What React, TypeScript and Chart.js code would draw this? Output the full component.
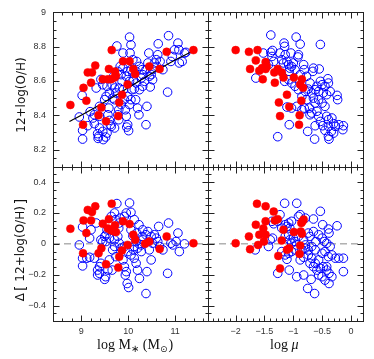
import React, { useEffect, useRef } from "react";
import { Chart, registerables } from "chart.js";

Chart.register(...registerables);

// axis ranges
const massRange = [8.4, 11.7];
const muRange = [-2.48, 0.21];
const ohRange = [8.1, 9.0];
const dohRange = [-0.5, 0.5];

// labelled ticks
const massTicks = [9, 10, 11];
const massTickLabels = ["9", "10", "11"];
const muTicks = [-2, -1.5, -1, -0.5, 0];
const muTickLabels = ["\u22122", "\u22121.5", "\u22121", "\u22120.5", "0"];
const ohTicks = [8.2, 8.4, 8.6, 8.8, 9];
const ohTickLabels = ["8.2", "8.4", "8.6", "8.8", "9"];
const dohTicks = [-0.4, -0.2, 0, 0.2, 0.4];
const dohTickLabels = ["\u22120.4", "\u22120.2", "0", "0.2", "0.4"];

// top-left: log M*, 12+log(O/H)
const redMassOH = [
  [8.77, 8.46], [9.05, 8.56], [9.11, 8.485], [9.14, 8.65], [9.23, 8.65], [9.3, 8.69], [9.21, 8.59],
  [9.04, 8.345], [9.37, 8.4], [9.43, 8.445], [9.46, 8.61], [9.53, 8.365], [9.57, 8.61], [9.59, 8.67],
  [9.65, 8.78], [9.64, 8.61], [9.71, 8.62], [9.74, 8.63], [9.72, 8.655], [9.79, 8.395], [9.81, 8.475],
  [9.87, 8.52], [9.89, 8.715], [9.99, 8.58], [10.03, 8.715], [10.11, 8.67], [10.15, 8.64], [10.45, 8.685],
  [10.67, 8.67], [10.82, 8.77], [11.39, 8.78],
];
const blueMassOH = [
  [8.96, 8.39], [9.03, 8.312], [9.03, 8.261], [9.02, 8.516], [9.14, 8.339], [9.19, 8.421], [9.25, 8.384],
  [9.28, 8.351], [9.32, 8.559], [9.35, 8.293], [9.37, 8.277], [9.36, 8.265], [9.39, 8.326], [9.42, 8.609],
  [9.46, 8.578], [9.47, 8.258], [9.52, 8.273], [9.5, 8.491], [9.53, 8.51], [9.55, 8.569], [9.57, 8.403],
  [9.59, 8.442], [9.62, 8.345], [9.64, 8.335], [9.67, 8.5], [9.66, 8.578], [9.69, 8.627], [9.71, 8.559],
  [9.74, 8.53], [9.76, 8.804], [9.78, 8.403], [9.8, 8.432], [9.83, 8.685], [9.85, 8.637], [9.87, 8.598],
  [9.89, 8.763], [9.9, 8.549], [9.92, 8.491], [9.94, 8.432], [9.96, 8.394], [9.97, 8.331], [9.99, 8.345],
  [10.01, 8.31], [10.03, 8.856], [10.06, 8.811], [10.04, 8.763], [10.06, 8.666], [10.1, 8.724], [10.11, 8.607],
  [10.13, 8.553], [10.16, 8.491], [10.17, 8.588], [10.18, 8.714], [10.2, 8.442], [10.23, 8.403], [10.24, 8.685],
  [10.28, 8.617], [10.3, 8.666], [10.31, 8.637], [10.35, 8.598], [10.38, 8.345], [10.4, 8.452], [10.42, 8.705],
  [10.44, 8.763], [10.47, 8.565], [10.49, 8.637], [10.52, 8.666], [10.56, 8.705], [10.6, 8.724], [10.61, 8.685],
  [10.63, 8.753], [10.64, 8.817], [10.68, 8.714], [10.74, 8.666], [10.84, 8.535], [10.86, 8.864], [10.91, 8.714],
  [10.94, 8.743], [10.99, 8.782], [11.06, 8.821], [11.08, 8.782], [11.09, 8.705], [11.2, 8.763], [11.23, 8.767],
  [11.15, 8.714], [9.6, 8.53], [9.71, 8.491], [9.81, 8.559], [9.99, 8.51], [10.06, 8.491], [10.08, 8.549],
  [10.24, 8.549], [10.31, 8.569], [9.96, 8.627], [10.03, 8.598], [9.78, 8.656], [9.89, 8.675], [10.17, 8.656],
  [10.38, 8.666], [10.45, 8.627], [10.52, 8.607], [9.99, 8.656], [10.1, 8.646], [9.39, 8.394], [9.46, 8.306],
  [9.55, 8.296], [9.6, 8.37], [9.71, 8.326], [9.8, 8.374], [9.85, 8.462], [10.03, 8.462], [9.39, 8.452],
  [9.28, 8.403],
];
// fit line through the top-left panel
const fitMass = [8.75, 9.0, 9.5, 10.0, 10.5, 11.0, 11.37];
const fitOH = [8.364, 8.4, 8.478, 8.56, 8.643, 8.722, 8.773];

// bottom-left: log M*, delta
const redMassDelta = [
  [8.77, 0.098], [9.05, 0.152], [9.11, 0.07], [9.14, 0.22], [9.23, 0.207], [9.3, 0.243], [9.21, 0.152],
  [9.04, -0.061], [9.37, -0.061], [9.43, -0.028], [9.46, 0.13], [9.53, -0.133], [9.57, 0.1], [9.59, 0.16],
  [9.65, 0.26], [9.64, 0.087], [9.71, 0.08], [9.74, 0.076], [9.72, 0.12], [9.79, -0.154], [9.81, -0.083],
  [9.87, -0.043], [9.89, 0.146], [9.99, -0.007], [10.03, 0.128], [10.11, 0.059], [10.15, 0.026], [10.45, 0.015],
  [10.36, 0.0], [10.67, -0.033], [10.82, 0.048], [11.39, 0.004],
];
const blueMassDelta = [
  [8.96, -0.007], [9.03, -0.093], [9.03, -0.143], [9.03, 0.109], [9.12, -0.093], [9.18, -0.087], [9.28, -0.093],
  [9.21, 0.091], [9.18, 0.037], [9.32, 0.135], [9.35, -0.17], [9.35, -0.202], [9.39, -0.191], [9.39, -0.148],
  [9.42, -0.126], [9.42, 0.026], [9.46, 0.015], [9.5, 0.048], [9.53, 0.059], [9.55, 0.091], [9.52, -0.213],
  [9.5, -0.23], [9.57, -0.17], [9.6, -0.104], [9.66, -0.17], [9.67, -0.039], [9.71, -0.017], [9.74, -0.083],
  [9.73, 0.157], [9.76, 0.261], [9.78, 0.048], [9.8, 0.102], [9.83, 0.167], [9.85, -0.028], [9.89, -0.104],
  [9.92, -0.148], [9.94, -0.202], [9.96, -0.18], [9.98, -0.257], [10.01, -0.283], [10.03, 0.265], [10.06, 0.204],
  [10.06, 0.091], [10.1, 0.052], [10.11, -0.039], [10.13, -0.093], [10.17, -0.126], [10.17, 0.015], [10.18, 0.07],
  [10.2, -0.17], [10.24, -0.224], [10.28, -0.05], [10.3, 0.048], [10.31, 0.026], [10.38, -0.322], [10.4, -0.18],
  [10.42, 0.08], [10.45, -0.039], [10.49, -0.104], [10.52, 0.004], [10.56, 0.059], [10.6, 0.037], [10.63, 0.015],
  [10.65, 0.113], [10.67, -0.017], [10.74, -0.039], [10.84, -0.191], [10.86, 0.135], [10.91, 0.004], [10.95, -0.007],
  [11.02, 0.015], [11.06, 0.07], [11.09, -0.05], [11.2, 0.0], [9.64, 0.178], [9.71, 0.2], [9.81, 0.135],
  [9.92, 0.178], [9.96, 0.2], [10.13, 0.157], [10.23, 0.124], [10.31, 0.091], [9.53, 0.015], [9.6, 0.037],
  [9.71, 0.026], [9.81, 0.004], [9.92, -0.017], [9.99, -0.05], [10.06, -0.072], [10.13, -0.017], [10.2, -0.028],
  [10.28, -0.007], [10.38, 0.059], [10.49, 0.048],
];

// top-right: log mu, 12+log(O/H)
const redMuOH = [
  [-2.0, 8.78], [-1.77, 8.77], [-1.62, 8.78], [-1.65, 8.72], [-1.48, 8.71], [-1.46, 8.685], [-1.75, 8.67],
  [-1.59, 8.66], [-1.54, 8.675], [-1.48, 8.67], [-1.53, 8.61], [-1.33, 8.65], [-1.27, 8.67], [-1.32, 8.59],
  [-1.2, 8.65], [-1.17, 8.62], [-0.99, 8.62], [-0.85, 8.61], [-0.88, 8.58], [-0.83, 8.56], [-1.11, 8.52],
  [-1.25, 8.475], [-1.07, 8.45], [-0.86, 8.485], [-1.23, 8.395], [-0.89, 8.4], [-0.9, 8.345],
];
const blueMuOH = [
  [-1.39, 8.868], [-0.95, 8.856], [-0.88, 8.815], [-0.53, 8.813], [-1.16, 8.821], [-1.15, 8.802], [-1.36, 8.778],
  [-1.39, 8.767], [-1.52, 8.763], [-1.23, 8.763], [-1.14, 8.753], [-1.04, 8.763], [-0.91, 8.753], [-0.92, 8.74],
  [-1.2, 8.724], [-1.17, 8.705], [-1.11, 8.714], [-1.08, 8.695], [-1.03, 8.685], [-1.06, 8.675], [-1.0, 8.705],
  [-0.97, 8.666], [-1.07, 8.656], [-1.37, 8.743], [-1.34, 8.714], [-1.43, 8.695], [-0.82, 8.695], [-0.81, 8.666],
  [-0.65, 8.675], [-0.55, 8.67], [-0.66, 8.656], [-1.65, 8.617], [-1.15, 8.598], [-1.08, 8.607], [-1.03, 8.588],
  [-0.97, 8.569], [-0.91, 8.549], [-0.79, 8.539], [-0.74, 8.553], [-0.68, 8.53], [-0.62, 8.549], [-0.53, 8.598],
  [-0.5, 8.578], [-0.45, 8.569], [-0.4, 8.613], [-0.39, 8.588], [-0.59, 8.569], [-0.56, 8.539], [-0.48, 8.53],
  [-0.42, 8.52], [-0.36, 8.539], [-0.24, 8.516], [-0.23, 8.491], [-0.65, 8.5], [-0.62, 8.471], [-0.56, 8.491],
  [-0.5, 8.471], [-0.45, 8.452], [-0.72, 8.442], [-0.68, 8.413], [-0.59, 8.423], [-0.56, 8.394], [-0.53, 8.364],
  [-0.62, 8.339], [-0.71, 8.403], [-1.11, 8.448], [-1.03, 8.442], [-0.94, 8.452], [-0.85, 8.432], [-0.81, 8.442],
  [-1.07, 8.345], [-0.75, 8.306], [-0.63, 8.261], [-1.27, 8.275], [-0.42, 8.394], [-0.39, 8.374], [-0.33, 8.384],
  [-0.3, 8.351], [-0.39, 8.335], [-0.27, 8.335], [-0.21, 8.345], [-0.13, 8.339], [-0.14, 8.316], [-0.3, 8.296],
  [-0.39, 8.277], [-0.38, 8.261], [-0.49, 8.339], [-0.45, 8.312], [-0.34, 8.306], [-0.88, 8.637], [-0.77, 8.627],
  [-0.71, 8.588], [-0.85, 8.51], [-0.77, 8.491],
];

// bottom-right: log mu, delta
const redMuDelta = [
  [-2.0, 0.004], [-1.77, 0.048], [-1.75, -0.035], [-1.65, 0.124], [-1.63, 0.26], [-1.48, 0.243], [-1.59, 0.059],
  [-1.61, -0.007], [-1.52, 0.1], [-1.48, 0.146], [-1.48, 0.059], [-1.51, 0.015], [-1.34, 0.209], [-1.32, 0.152],
  [-1.27, 0.16], [-1.2, 0.022], [-1.17, 0.091], [-1.26, -0.078], [-1.23, -0.159], [-1.11, -0.039], [-1.07, -0.028],
  [-0.99, 0.076], [-0.88, -0.011], [-0.89, -0.065], [-0.87, 0.08], [-0.86, 0.135], [-0.84, 0.146], [-0.82, 0.157],
  [-0.85, 0.065],
];
const blueMuDelta = [
  [-1.15, 0.263], [-0.94, 0.263], [-1.23, 0.189], [-1.37, 0.146], [-1.34, 0.13], [-1.27, 0.146], [-1.66, -0.039],
  [-1.43, -0.017], [-1.4, 0.026], [-1.36, 0.037], [-1.2, 0.102], [-1.14, 0.124], [-1.11, 0.113], [-1.08, 0.135],
  [-1.06, 0.102], [-1.03, 0.146], [-0.91, 0.178], [-0.88, 0.189], [-0.79, 0.167], [-0.65, 0.161], [-0.53, 0.211],
  [-0.49, 0.124], [-0.39, 0.096], [-0.24, 0.117], [-0.38, 0.07], [-1.14, 0.048], [-1.08, 0.059], [-1.06, 0.026],
  [-1.03, 0.004], [-1.0, 0.037], [-0.97, 0.015], [-0.94, -0.007], [-0.91, 0.048], [-0.82, 0.026], [-0.79, -0.007],
  [-0.74, 0.07], [-0.71, 0.048], [-0.65, 0.08], [-0.61, 0.015], [-0.56, 0.059], [-0.5, 0.037], [-0.46, 0.015],
  [-0.42, 0.004], [-0.36, -0.017], [-1.2, -0.05], [-1.14, -0.072], [-1.11, -0.1], [-1.08, -0.061], [-1.03, -0.05],
  [-0.97, -0.039], [-0.88, -0.104], [-0.82, -0.087], [-0.74, -0.072], [-0.68, -0.093], [-0.62, -0.126], [-0.56, -0.104],
  [-0.5, -0.061], [-0.45, -0.05], [-0.39, -0.083], [-0.33, -0.072], [-0.27, -0.093], [-0.21, -0.093], [-0.13, -0.093],
  [-0.71, -0.126], [-0.65, -0.148], [-0.59, -0.17], [-0.53, -0.159], [-0.48, -0.148], [-0.42, -0.17], [-0.38, -0.191],
  [-0.33, -0.213], [-0.38, -0.257], [-0.45, -0.235], [-0.5, -0.213], [-0.56, -0.202], [-1.27, -0.191], [-1.07, -0.17],
  [-0.94, -0.213], [-0.82, -0.202], [-0.69, -0.23], [-0.75, -0.289], [-0.63, -0.322], [-0.42, -0.148], [-0.13, -0.18],
  [-0.79, -0.028], [-0.74, -0.039], [-0.68, -0.017], [-0.62, -0.039], [-0.85, -0.039],
];

// zero reference lines in the lower panels
const zeroDelta = [0, 0];

const RED = "#ff0000";
const BLUE = "#0000ff";

const axisDefs: any = {
  x1: { min: massRange[0], max: massRange[1], minor: 0.2, major: 1 },
  x2: { min: muRange[0], max: muRange[1], minor: 0.1, major: 0.5 },
  y1: { min: ohRange[0], max: ohRange[1], minor: 0.05, major: 0.2 },
  y2: { min: dohRange[0], max: dohRange[1], minor: 0.05, major: 0.2 },
};

function tickSet(def: any) {
  const out: { v: number; major: boolean }[] = [];
  const i0 = Math.ceil(def.min / def.minor - 1e-6);
  const i1 = Math.floor(def.max / def.minor + 1e-6);
  for (let i = i0; i <= i1; i++) {
    const v = i * def.minor;
    const r = v / def.major;
    out.push({ v, major: Math.abs(r - Math.round(r)) < 1e-6 });
  }
  return out;
}

const framePlugin = {
  id: "panelFrames",
  afterDatasetsDraw(chart: any) {
    const ctx = chart.ctx;
    const panels = [["x1", "y1"], ["x2", "y1"], ["x1", "y2"], ["x2", "y2"]];
    ctx.save();
    ctx.strokeStyle = "#222";
    ctx.lineWidth = 1;
    for (const [xk, yk] of panels) {
      const xs = chart.scales[xk];
      const ys = chart.scales[yk];
      const L = Math.round(xs.left) + 0.5;
      const R = Math.round(xs.right) + 0.5;
      const T = Math.round(ys.top) + 0.5;
      const B = Math.round(ys.bottom) + 0.5;
      ctx.strokeRect(L, T, R - L, B - T);
      ctx.beginPath();
      for (const t of tickSet(axisDefs[xk])) {
        const px = Math.round(xs.getPixelForValue(t.v)) + 0.5;
        if (px <= L + 1 || px >= R - 1) continue;
        const len = t.major ? 6 : 3;
        ctx.moveTo(px, B);
        ctx.lineTo(px, B - len);
        ctx.moveTo(px, T);
        ctx.lineTo(px, T + len);
      }
      for (const t of tickSet(axisDefs[yk])) {
        const py = Math.round(ys.getPixelForValue(t.v)) + 0.5;
        if (py <= T + 1 || py >= B - 1) continue;
        const len = t.major ? 6 : 3;
        ctx.moveTo(L, py);
        ctx.lineTo(L + len, py);
        ctx.moveTo(R, py);
        ctx.lineTo(R - len, py);
      }
      ctx.stroke();
    }
    ctx.restore();
  },
  afterDraw(chart: any) {
    const ctx = chart.ctx;
    ctx.save();
    ctx.fillStyle = "#111";
    // y titles
    ctx.textAlign = "center";
    ctx.textBaseline = "middle";
    ctx.save();
    ctx.translate(22, 95);
    ctx.rotate(-Math.PI / 2);
    ctx.font = '12px "DejaVu Sans"';
    ctx.fillText("12+log(O/H)", 0, 0);
    ctx.restore();

    ctx.save();
    ctx.translate(21, 250);
    ctx.rotate(-Math.PI / 2);
    ctx.font = '12px "DejaVu Sans"';
    const parts = ["\u0394", "[", "12+log(O/H)", "]"];
    const fonts = ['12px "DejaVu Sans"', '14px "DejaVu Sans"', '12px "DejaVu Sans"', '14px "DejaVu Sans"'];
    const gaps = [2, 4, 2];
    const widths = parts.map((p, i) => {
      ctx.font = fonts[i];
      return ctx.measureText(p).width;
    });
    const total = widths.reduce((a, b) => a + b, 0) + gaps.reduce((a, b) => a + b, 0);
    let x = -total / 2;
    ctx.textAlign = "left";
    parts.forEach((p, i) => {
      ctx.font = fonts[i];
      ctx.fillText(p, x, 0);
      x += widths[i] + (gaps[i] || 0);
    });
    ctx.restore();

    // x titles
    ctx.textAlign = "left";
    ctx.textBaseline = "alphabetic";
    const base = 348.5;
    const serif = '14px "Liberation Serif"';
    const small = '10px "Liberation Serif"';
    let cx = 97;
    const put = (txt: string, font: string, dy: number) => {
      ctx.font = font;
      ctx.fillText(txt, cx, base + dy);
      cx += ctx.measureText(txt).width;
    };
    put("log M", serif, 0);
    put("\u2217", small, 3);
    cx += 4;
    put("(M", serif, 0);
    ctx.font = '9px "DejaVu Sans"';
    ctx.fillText("\u2299", cx, base + 3);
    cx += ctx.measureText("\u2299").width + 1;
    put(")", serif, 0);

    cx = 270;
    put("log ", serif, 0);
    put("\u03bc", 'italic 14px "Liberation Serif"', 0);
    ctx.restore();
  },
};

const pts = (arr: number[][]) => arr.map(([x, y]) => ({ x, y }));

export default function App() {
  const ref = useRef<HTMLCanvasElement | null>(null);
  useEffect(() => {
    if (!ref.current) return;
    const tickFont = { family: '"Liberation Sans", Arial, sans-serif', size: 9 };
    const redSet = (data: number[][], xa: string, ya: string) => ({
      type: "scatter",
      data: pts(data),
      xAxisID: xa,
      yAxisID: ya,
      pointRadius: 4,
      pointBackgroundColor: RED,
      pointBorderColor: RED,
      pointBorderWidth: 0.5,
      showLine: false,
    });
    const blueSet = (data: number[][], xa: string, ya: string) => ({
      type: "scatter",
      data: pts(data),
      xAxisID: xa,
      yAxisID: ya,
      pointRadius: 4.3,
      pointBackgroundColor: "rgba(0,0,0,0)",
      pointBorderColor: BLUE,
      pointBorderWidth: 1,
      showLine: false,
    });
    const scaleBase = (key: string, labels: string[], values: number[], extra: any) => ({
      type: "linear",
      min: axisDefs[key].min,
      max: axisDefs[key].max,
      grid: { display: false, drawTicks: false },
      border: { display: false },
      afterBuildTicks: (s: any) => {
        s.ticks = values.map((v) => ({ value: v }));
      },
      ticks: {
        font: tickFont,
        color: "#333",
        autoSkip: false,
        maxRotation: 0,
        callback: (_v: any, i: number) => labels[i],
      },
      ...extra,
    });
    const chart = new Chart(ref.current, {
      type: "scatter",
      data: {
        datasets: [
          redSet(redMassOH, "x1", "y1"),
          redSet(redMuOH, "x2", "y1"),
          redSet(redMassDelta, "x1", "y2"),
          redSet(redMuDelta, "x2", "y2"),
          {
            type: "line",
            data: fitMass.map((x, i) => ({ x, y: fitOH[i] })),
            xAxisID: "x1",
            yAxisID: "y1",
            borderColor: "#000",
            borderWidth: 1.2,
            pointRadius: 0,
            fill: false,
            tension: 0.3,
          },
          blueSet(blueMassOH, "x1", "y1"),
          blueSet(blueMuOH, "x2", "y1"),
          blueSet(blueMassDelta, "x1", "y2"),
          blueSet(blueMuDelta, "x2", "y2"),
          {
            type: "line",
            data: massRange.map((x, i) => ({ x, y: zeroDelta[i] })),
            xAxisID: "x1",
            yAxisID: "y2",
            borderColor: "#888",
            borderWidth: 1,
            borderDash: [7, 4],
            pointRadius: 0,
            fill: false,
          },
          {
            type: "line",
            data: muRange.map((x, i) => ({ x, y: zeroDelta[i] })),
            xAxisID: "x2",
            yAxisID: "y2",
            borderColor: "#888",
            borderWidth: 1,
            borderDash: [7, 4],
            pointRadius: 0,
            fill: false,
          },
        ] as any,
      },
      options: {
        animation: false,
        responsive: false,
        devicePixelRatio: 1,
        layout: { padding: { left: 0, top: 12, right: 11, bottom: 0 } },
        plugins: { legend: { display: false }, tooltip: { enabled: false } },
        events: [],
        scales: {
          x1: scaleBase("x1", massTickLabels, massTicks, {
            position: "bottom",
            stack: "xs",
            weight: 1,
            ticks: { font: tickFont, color: "#333", autoSkip: false, maxRotation: 0, padding: 5, callback: (_v: any, i: number) => massTickLabels[i] },
            afterFit: (s: any) => { s.height = 38; },
          }),
          x2: scaleBase("x2", muTickLabels, muTicks, {
            position: "bottom",
            stack: "xs",
            weight: 2,
            ticks: { font: tickFont, color: "#333", autoSkip: false, maxRotation: 0, padding: 5, callback: (_v: any, i: number) => muTickLabels[i] },
            afterFit: (s: any) => { s.height = 38; },
          }),
          y1: scaleBase("y1", ohTickLabels, ohTicks, {
            position: "left",
            stack: "ys",
            weight: 2,
            ticks: { font: tickFont, color: "#333", autoSkip: false, padding: 7, callback: (_v: any, i: number) => ohTickLabels[i] },
            afterFit: (s: any) => { s.width = 53; },
          }),
          y2: scaleBase("y2", dohTickLabels, dohTicks, {
            position: "left",
            stack: "ys",
            weight: 1,
            ticks: { font: tickFont, color: "#333", autoSkip: false, padding: 7, callback: (_v: any, i: number) => dohTickLabels[i] },
            afterFit: (s: any) => { s.width = 53; },
          }),
        } as any,
      },
      plugins: [framePlugin as any],
    } as any);
    return () => chart.destroy();
  }, []);
  return (
    <div style={{ position: "absolute", left: 0, top: 0, width: 374, height: 359, background: "#fff" }}>
      <canvas ref={ref} width={374} height={359} style={{ display: "block" }} />
    </div>
  );
}
